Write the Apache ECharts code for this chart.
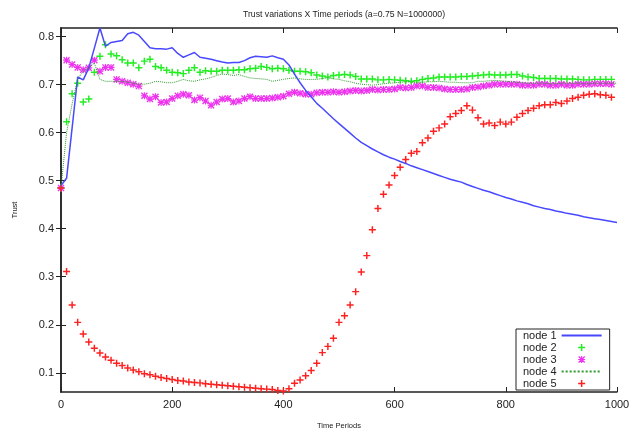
<!DOCTYPE html>
<html>
<head>
<meta charset="utf-8">
<script src="https://cdn.jsdelivr.net/npm/echarts@6/dist/echarts.min.js"></script>
<style>
  html, body { margin: 0; padding: 0; background: #fff; }
  #chart { width: 637px; height: 435px; }
</style>
</head>
<body>
<div id="chart"></div>
<script>
// time periods (x), one sample every 10 periods
const periods = [
  0, 10, 20, 30, 40, 50, 60, 70, 80, 90,
  100, 110, 120, 130, 140, 150, 160, 170, 180, 190,
  200, 210, 220, 230, 240, 250, 260, 270, 280, 290,
  300, 310, 320, 330, 340, 350, 360, 370, 380, 390,
  400, 410, 420, 430, 440, 450, 460, 470, 480, 490,
  500, 510, 520, 530, 540, 550, 560, 570, 580, 590,
  600, 610, 620, 630, 640, 650, 660, 670, 680, 690,
  700, 710, 720, 730, 740, 750, 760, 770, 780, 790,
  800, 810, 820, 830, 840, 850, 860, 870, 880, 890,
  900, 910, 920, 930, 940, 950, 960, 970, 980, 990,
  1000
];

const yTicks = [0.1, 0.2, 0.3, 0.4, 0.5, 0.6, 0.7, 0.8];

// node 1 (line)
const node1 = [
  0.490, 0.505, 0.610, 0.716, 0.710, 0.735, 0.776, 0.818, 0.780, 0.788,
  0.790, 0.792, 0.806, 0.809, 0.803, 0.790, 0.777, 0.775, 0.775, 0.774,
  0.777, 0.765, 0.757, 0.762, 0.767, 0.757, 0.755, 0.753, 0.750, 0.747,
  0.745, 0.746, 0.746, 0.750, 0.756, 0.759, 0.758, 0.757, 0.760, 0.756,
  0.753, 0.741, 0.722, 0.704, 0.688, 0.675, 0.661, 0.651, 0.640, 0.629,
  0.619, 0.609, 0.599, 0.589, 0.580, 0.573, 0.566, 0.560, 0.554, 0.549,
  0.545, 0.540, 0.536, 0.531, 0.527, 0.523, 0.519, 0.515, 0.511, 0.507,
  0.503, 0.500, 0.497, 0.492, 0.488, 0.484, 0.480, 0.477, 0.473, 0.469,
  0.465, 0.462, 0.458, 0.455, 0.452, 0.448, 0.445, 0.442, 0.440, 0.437,
  0.435, 0.432, 0.430, 0.428, 0.425, 0.423, 0.421, 0.419, 0.417, 0.415,
  0.413
];

// node 2 (points +)
const node2 = [
  0.485, 0.623, 0.681, 0.703, 0.664, 0.670, 0.726, 0.759, 0.783, 0.764,
  0.760, 0.752, 0.745, 0.745, 0.735, 0.749, 0.753, 0.738, 0.735, 0.730,
  0.726, 0.725, 0.723, 0.730, 0.735, 0.726, 0.729, 0.728, 0.728, 0.730,
  0.730, 0.730, 0.731, 0.731, 0.733, 0.734, 0.738, 0.736, 0.733, 0.734,
  0.733, 0.730, 0.728, 0.728, 0.727, 0.725, 0.720, 0.718, 0.716, 0.719,
  0.720, 0.721, 0.720, 0.717, 0.712, 0.712, 0.712, 0.710, 0.710, 0.711,
  0.710, 0.709, 0.708, 0.707, 0.708, 0.711, 0.713, 0.714, 0.716, 0.716,
  0.716, 0.716, 0.717, 0.717, 0.718, 0.719, 0.720, 0.721, 0.720, 0.720,
  0.720, 0.721, 0.721, 0.718, 0.716, 0.715, 0.713, 0.713, 0.713, 0.713,
  0.712, 0.712, 0.712, 0.711, 0.710, 0.710, 0.711, 0.711, 0.711, 0.711
];

// node 3 (points *)
const node3 = [
  0.485, 0.751, 0.742, 0.736, 0.731, 0.735, 0.751, 0.728, 0.736, 0.736,
  0.711, 0.707, 0.704, 0.701, 0.697, 0.677, 0.670, 0.675, 0.663, 0.664,
  0.671, 0.677, 0.680, 0.678, 0.668, 0.673, 0.666, 0.657, 0.664, 0.670,
  0.671, 0.664, 0.666, 0.671, 0.675, 0.671, 0.671, 0.671, 0.672, 0.674,
  0.676, 0.681, 0.684, 0.682, 0.680, 0.680, 0.683, 0.684, 0.684, 0.685,
  0.684, 0.685, 0.687, 0.688, 0.687, 0.688, 0.690, 0.689, 0.690, 0.690,
  0.691, 0.694, 0.693, 0.694, 0.697, 0.697, 0.694, 0.694, 0.693, 0.691,
  0.690, 0.690, 0.690, 0.691, 0.694, 0.695, 0.697, 0.699, 0.701, 0.701,
  0.701, 0.701, 0.701, 0.699, 0.699, 0.699, 0.701, 0.701, 0.699, 0.699,
  0.701, 0.699, 0.699, 0.701, 0.701, 0.701, 0.702, 0.702, 0.702, 0.701
];

// node 4 (dotted line)
const node4 = [
  0.485, 0.600, 0.660, 0.712, 0.728, 0.735, 0.745, 0.711, 0.707, 0.707,
  0.707, 0.707, 0.705, 0.703, 0.701, 0.701, 0.703, 0.707, 0.706, 0.704,
  0.704, 0.707, 0.711, 0.708, 0.707, 0.710, 0.712, 0.715, 0.719, 0.722,
  0.721, 0.719, 0.721, 0.717, 0.714, 0.713, 0.712, 0.711, 0.707, 0.709,
  0.711, 0.713, 0.714, 0.712, 0.711, 0.711, 0.711, 0.713, 0.714, 0.712,
  0.711, 0.708, 0.706, 0.703, 0.701, 0.700, 0.699, 0.700, 0.702, 0.703,
  0.704, 0.705, 0.706, 0.705, 0.704, 0.705, 0.706, 0.706, 0.707, 0.706,
  0.705, 0.705, 0.704, 0.704, 0.704, 0.707, 0.707, 0.708, 0.709, 0.708,
  0.707, 0.706, 0.705, 0.704, 0.703, 0.703, 0.703, 0.703, 0.702, 0.702,
  0.703, 0.703, 0.703, 0.703, 0.702, 0.702, 0.703, 0.703, 0.703, 0.703,
  0.703
];

// node 5 (points +)
const node5 = [
  0.485, 0.311, 0.241, 0.205, 0.181, 0.164, 0.151, 0.141, 0.133, 0.126,
  0.120, 0.115, 0.110, 0.106, 0.102, 0.098, 0.096, 0.093, 0.090, 0.088,
  0.086, 0.084, 0.083, 0.081, 0.080, 0.079, 0.077, 0.076, 0.075, 0.074,
  0.073, 0.072, 0.071, 0.070, 0.069, 0.068, 0.067, 0.066, 0.065, 0.063,
  0.062, 0.067, 0.078, 0.085, 0.094, 0.105, 0.120, 0.142, 0.155, 0.172,
  0.205, 0.219, 0.241, 0.269, 0.310, 0.344, 0.398, 0.442, 0.472, 0.491,
  0.511, 0.528, 0.544, 0.557, 0.561, 0.579, 0.589, 0.603, 0.610, 0.618,
  0.633, 0.640, 0.646, 0.656, 0.647, 0.631, 0.618, 0.620, 0.615, 0.622,
  0.618, 0.622, 0.632, 0.640, 0.646, 0.651, 0.656, 0.658, 0.658, 0.663,
  0.661, 0.666, 0.671, 0.674, 0.678, 0.680, 0.681, 0.679, 0.678, 0.674
];

const plusPath = 'path://M0,3H3V0H4.6V3H7.6V4.6H4.6V7.6H3V4.6H0Z';
const starPath = 'path://M4.2,0H5.8V10H4.2Z M0,4.2H10V5.8H0Z M1.4,0L10,8.6L8.6,10L0,1.4Z M8.6,0L10,1.4L1.4,10L0,8.6Z';

function pairs(values) {
  return values.map((v, i) => [periods[i], v]);
}

const axisColor = '#222';
const font = 'Liberation Sans, Arial, sans-serif';

const chart = echarts.init(document.getElementById('chart'));

const option = {
  animation: false,
  backgroundColor: '#fff',
  textStyle: { fontFamily: font },
  title: {
    text: 'Trust variations X Time periods (a=0.75 N=1000000)',
    left: 339,
    top: 5,
    textAlign: 'center',
    textStyle: { fontSize: 8.7, fontWeight: 'normal', color: '#222', fontFamily: font }
  },
  grid: { left: 61, right: 20, top: 28, bottom: 38 },
  legend: {
    orient: 'vertical',
    left: 516,
    top: 329,
    align: 'right',
    itemWidth: 40,
    itemHeight: 7,
    itemGap: 1,
    padding: [1, 7, 1, 7],
    borderColor: '#222',
    borderWidth: 1,
    textStyle: { fontSize: 11, lineHeight: 11, color: '#222', fontFamily: font },
    data: [
      { name: 'node 1', itemStyle: { opacity: 0 } },
      { name: 'node 2' },
      { name: 'node 3' },
      { name: 'node 4', itemStyle: { opacity: 0 } },
      { name: 'node 5' }
    ]
  },
  xAxis: [
    {
      type: 'value',
      min: 0,
      max: 1000,
      interval: 200,
      name: 'Time Periods',
      nameLocation: 'middle',
      nameGap: 30,
      nameTextStyle: { fontSize: 7.5, color: '#222' },
      axisLine: { lineStyle: { color: axisColor, width: 1.5 } },
      axisTick: { inside: true, length: 5, lineStyle: { color: axisColor } },
      axisLabel: { fontSize: 11, color: '#222', margin: 7, formatter: v => String(v) },
      splitLine: { show: false }
    },
    {
      type: 'value',
      position: 'top',
      min: 0,
      max: 1000,
      interval: 200,
      axisLine: { lineStyle: { color: axisColor, width: 1.5 } },
      axisTick: { inside: true, length: 5, lineStyle: { color: axisColor } },
      axisLabel: { show: false },
      splitLine: { show: false }
    }
  ],
  yAxis: [
    {
      type: 'value',
      min: 0.06,
      max: 0.818,
      name: 'Trust',
      nameLocation: 'middle',
      nameGap: 42,
      nameRotate: 90,
      nameTextStyle: { fontSize: 7.5, color: '#222' },
      axisLine: { show: true, lineStyle: { color: axisColor, width: 1.5 } },
      axisTick: { show: true, inside: true, length: 5, customValues: yTicks, lineStyle: { color: axisColor } },
      axisLabel: { fontSize: 11, color: '#222', margin: 7, customValues: yTicks, formatter: v => v.toFixed(1) },
      splitLine: { show: false }
    },
    {
      type: 'value',
      position: 'right',
      min: 0.06,
      max: 0.818,
      axisLine: { show: true, lineStyle: { color: axisColor, width: 1.5 } },
      axisTick: { show: true, inside: true, length: 5, customValues: yTicks, lineStyle: { color: axisColor } },
      axisLabel: { show: false },
      splitLine: { show: false }
    }
  ],
  series: [
    {
      name: 'node 1',
      type: 'line',
      data: pairs(node1),
      symbol: 'none',
      lineStyle: { color: '#4848ff', width: 1.5 },
      itemStyle: { color: '#4848ff' }
    },
    {
      name: 'node 2',
      type: 'scatter',
      data: pairs(node2),
      symbol: plusPath,
      symbolSize: 7,
      itemStyle: { color: '#22ee22', opacity: 1 }
    },
    {
      name: 'node 3',
      type: 'scatter',
      data: pairs(node3),
      symbol: starPath,
      symbolSize: 7,
      itemStyle: { color: '#ee33ee', opacity: 1 }
    },
    {
      name: 'node 4',
      type: 'line',
      data: pairs(node4),
      symbol: 'none',
      lineStyle: { color: '#2e9a2e', width: 1, type: 'dotted' },
      itemStyle: { color: '#2e9a2e' }
    },
    {
      name: 'node 5',
      type: 'scatter',
      data: pairs(node5),
      symbol: plusPath,
      symbolSize: 7,
      itemStyle: { color: '#ff2020', opacity: 1 }
    }
  ]
};

chart.setOption(option);
</script>
</body>
</html>
